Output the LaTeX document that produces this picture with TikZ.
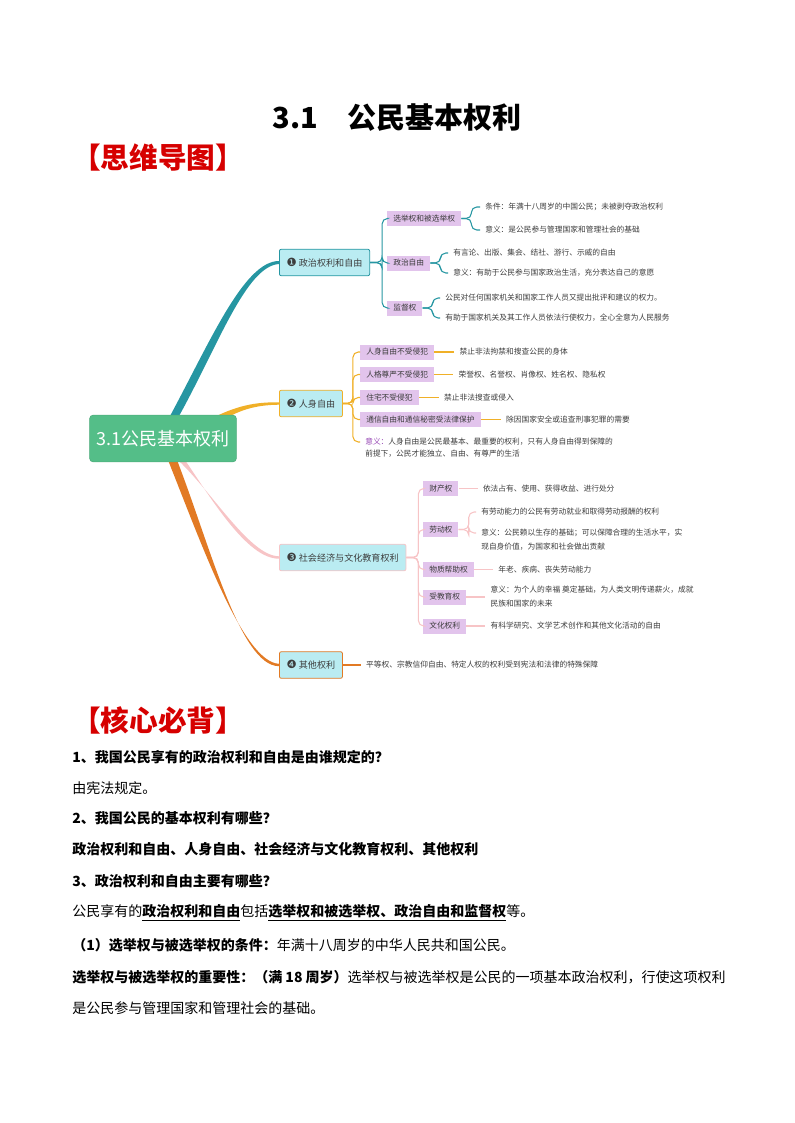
\documentclass[tikz,border=0pt]{standalone}
\usepackage{fontspec}
\setmainfont{Noto Sans CJK SC}
\newfontfamily\dejavu{DejaVu Sans}
\usetikzlibrary{positioning, calc, backgrounds}
\definecolor{mmTeal}{RGB}{38,150,162}
\definecolor{mmGold}{RGB}{240,176,40}
\definecolor{mmPink}{RGB}{247,196,198}
\definecolor{mmOrange}{RGB}{226,122,36}
\definecolor{mmRoot}{RGB}{84,190,136}
\definecolor{mmCyan}{RGB}{186,236,242}
\definecolor{mmLilac}{RGB}{226,196,236}
\definecolor{mmText}{RGB}{60,60,60}
\definecolor{mmPurple}{RGB}{150,70,180}
\definecolor{docRed}{RGB}{214,0,0}
\newcommand{\bnum}[1]{{\dejavu\fontsize{8.5pt}{8pt}\selectfont #1}}

\begin{document}
\begin{tikzpicture}[
    x=0.75pt, y=-0.75pt,
    rootbox/.style={fill=mmRoot, draw=mmRoot!90!black, rounded corners=2.5pt, minimum width=110pt, minimum height=35pt, inner sep=0pt, text=white, font=\fontsize{13.5pt}{16pt}\selectfont},
    branchbox/.style={draw=#1, fill=mmCyan, rounded corners=1.5pt, line width=0.6pt, anchor=west, minimum height=20pt, inner xsep=5.5pt, inner ysep=0pt, text=mmText, font=\fontsize{6.8pt}{8pt}\selectfont},
    subbox/.style={fill=mmLilac, anchor=west, minimum height=11.25pt, inner xsep=4.5pt, inner ysep=0pt, text=mmText, font=\fontsize{5.8pt}{7pt}\selectfont},
    leaf/.style={anchor=west, inner xsep=3.75pt, inner ysep=1pt, align=left, text=mmText, font=\fontsize{5.8pt}{10.5pt}\selectfont},
    link/.style={draw=#1, line width=0.8pt, rounded corners=4pt},
    heading/.style={anchor=west, inner sep=0pt, text=docRed, font=\fontsize{21.5pt}{24pt}\selectfont\bfseries},
    docline/.style={anchor=west, inner sep=0pt, font=\fontsize{10.5pt}{13pt}\selectfont},
    docq/.style={docline, font=\fontsize{10.5pt}{13pt}\selectfont\bfseries}
]
\useasboundingbox (0,0) rectangle (794,1123);

% Title and headings
\node (title) [inner sep=0pt, font=\fontsize{21.75pt}{24pt}\selectfont\bfseries] at (397,118) {3.1　公民基本权利};
\node (map) [heading] at (72,158) {【思维导图】};
\node (core) [heading] at (72,720) {【核心必背】};

% Root and main branches
\node (root) [rootbox] at (163,438.5) {3.1公民基本权利};
\node (b1) [branchbox=mmTeal] at (279,262.5) {\bnum{❶} 政治权利和自由};
\node (b2) [branchbox=mmGold] at (279,403.5) {\bnum{❷} 人身自由};
\node (b3) [branchbox=mmPink] at (279,557.5) {\bnum{❸} 社会经济与文化教育权利};
\node (b4) [branchbox=mmOrange] at (279,665) {\bnum{❹} 其他权利};

% Branch 1
\node (s11) [subbox] at (387,218.5) {选举权和被选举权};
\node (s12) [subbox] at (387,263) {政治自由};
\node (s13) [subbox] at (387,308) {监督权};
\node (l111) [leaf] at (480,207) {条件：年满十八周岁的中国公民；未被剥夺政治权利};
\node (l112) [leaf] at (480,230) {意义：是公民参与管理国家和管理社会的基础};
\node (l121) [leaf] at (448,253) {有言论、出版、集会、结社、游行、示威的自由};
\node (l122) [leaf] at (448,273) {意义：有助于公民参与国家政治生活，充分表达自己的意愿};
\node (l131) [leaf] at (440,298) {公民对任何国家机关和国家工作人员又提出批评和建议的权力。};
\node (l132) [leaf] at (440,318) {有助于国家机关及其工作人员依法行使权力，全心全意为人民服务};

% Branch 2
\node (s21) [subbox] at (360,352) {人身自由不受侵犯};
\node (s22) [subbox] at (360,374.5) {人格尊严不受侵犯};
\node (s23) [subbox] at (360,397.5) {住宅不受侵犯};
\node (s24) [subbox] at (360,419.5) {通信自由和通信秘密受法律保护};
\node (l21) [leaf, right=15pt of s21] {禁止非法拘禁和搜查公民的身体};
\node (l22) [leaf, right=14.25pt of s22] {荣誉权、名誉权、肖像权、姓名权、隐私权};
\node (l23) [leaf, right=15pt of s23] {禁止非法搜查或侵入};
\node (l24) [leaf, right=15pt of s24] {除因国家安全或追查刑事犯罪的需要};
\node (m2a) [leaf] at (360,442) {{\color{mmPurple}意义：}人身自由是公民最基本、最重要的权利，只有人身自由得到保障的};
\node (m2b) [leaf] at (360,454) {前提下，公民才能独立、自由、有尊严的生活};

% Branch 3
\node (s31) [subbox] at (423,488.5) {财产权};
\node (s32) [subbox] at (423,529.5) {劳动权};
\node (s33) [subbox] at (423,569.5) {物质帮助权};
\node (s34) [subbox] at (423,597) {受教育权};
\node (s35) [subbox] at (423,626) {文化权利};
\node (l31) [leaf, right=14.25pt of s31] {依法占有、使用、获得收益、进行处分};
\node (l321) [leaf] at (476,512) {有劳动能力的公民有劳动就业和取得劳动报酬的权利};
\node (l322a) [leaf] at (476,533) {意义：公民赖以生存的基础；可以保障合理的生活水平，实};
\node (l322b) [leaf] at (476,547) {现自身价值，为国家和社会做出贡献};
\node (l33) [leaf, right=14.25pt of s33] {年老、疾病、丧失劳动能力};
\node (l34) [leaf, right=14.25pt of s34] {意义：为个人的幸福 奠定基础，为人类文明传递薪火，成就\\民族和国家的未来};
\node (l35) [leaf, right=14.25pt of s35] {有科学研究、文学艺术创作和其他文化活动的自由};

% Branch 4
\node (l41) [leaf, right=13.5pt of b4] {平等权、宗教信仰自由、特定人权的权利受到宪法和法律的特殊保障};

% Main branch connectors (tapered)
\begin{scope}[on background layer]
\fill[mmTeal] ($(root.north)+(6,3)$) .. controls (210,342) and (244,261) .. ($(b1.west)+(0,-1.5)$)
    -- ($(b1.west)+(0,1.5)$) .. controls (246,266) and (218,346) .. ($(root.north)+(15,3)$) -- cycle;
\fill[mmGold] ($(root.north east)+(-26,4)$) .. controls (236,406) and (254,402) .. ($(b2.west)+(0,-1.2)$)
    -- ($(b2.west)+(0,1.2)$) .. controls (255,405) and (238,410) .. ($(root.north east)+(-20,9)$) -- cycle;
\fill[mmPink] ($(root.south)+(15,-2)$) .. controls (213,493) and (250,556) .. ($(b3.west)+(0,-1.2)$)
    -- ($(b3.west)+(0,1.2)$) .. controls (247,559) and (211,498) .. ($(root.south)+(22,-2)$) -- cycle;
\fill[mmOrange] ($(root.south)+(5,-2)$) .. controls (202,545) and (243,662) .. ($(b4.west)+(0,-1.2)$)
    -- ($(b4.west)+(0,1.2)$) .. controls (240,666) and (210,545) .. ($(root.south)+(14,-2)$) -- cycle;
\end{scope}

% Sub branch connectors
\foreach \s in {s11,s12,s13}
  \draw [link=mmTeal] (b1.east) -- ++(12,0) |- (\s.west);
\draw [link=mmTeal] (s11.east) -- ++(10,0) |- (l111.west);
\draw [link=mmTeal] (s11.east) -- ++(10,0) |- (l112.west);
\draw [link=mmTeal] (s12.east) -- ++(10,0) |- (l121.west);
\draw [link=mmTeal] (s12.east) -- ++(10,0) |- (l122.west);
\draw [link=mmTeal] (s13.east) -- ++(10,0) |- (l131.west);
\draw [link=mmTeal] (s13.east) -- ++(10,0) |- (l132.west);

\foreach \s in {s21,s22,s23,s24,m2a}
  \draw [link=mmGold] (b2.east) -- ++(10,0) |- (\s.west);
\draw [link=mmGold] (s21) -- (l21);
\draw [link=mmGold] (s22) -- (l22);
\draw [link=mmGold] (s23) -- (l23);
\draw [link=mmGold] (s24) -- (l24);

\foreach \s in {s31,s32,s33,s34,s35}
  \draw [link=mmPink] (b3.east) -- ++(12,0) |- (\s.west);
\draw [link=mmPink] (s31) -- (l31);
\draw [link=mmPink] (s32.east) -- ++(10,0) |- (l321.west);
\draw [link=mmPink] (s32.east) -- ++(10,0) |- (l322a.west);
\draw [link=mmPink] (s33) -- (l33);
\draw [link=mmPink] (s34) -- (l34);
\draw [link=mmPink] (s35) -- (l35);

\draw [link=mmOrange] (b4) -- (l41);

% Core points
\node (q1) [docq] at (72,757) {1、我国公民享有的政治权利和自由是由谁规定的？};
\node (a1) [docline] at (72,788) {由宪法规定。};
\node (q2) [docq] at (72,818) {2、我国公民的基本权利有哪些？};
\node (a2) [docq] at (72,849) {政治权利和自由、人身自由、社会经济与文化教育权利、其他权利};
\node (q3) [docq] at (72,881) {3、政治权利和自由主要有哪些？};
\node (a3) [docline] at (72,913) {公民享有的\textbf{\underline{政治权利和自由}}包括\textbf{\underline{选举权和被选举权、政治自由和监督权}}等。};
\node (a3a) [docline] at (72,945) {\textbf{（1）选举权与被选举权的条件：}年满十八周岁的中华人民共和国公民。};
\node (a3b) [docline] at (72,977) {\textbf{选举权与被选举权的重要性：（满 18 周岁）}选举权与被选举权是公民的一项基本政治权利，行使这项权利};
\node (a3c) [docline] at (72,1008) {是公民参与管理国家和管理社会的基础。};
\end{tikzpicture}
\end{document}
